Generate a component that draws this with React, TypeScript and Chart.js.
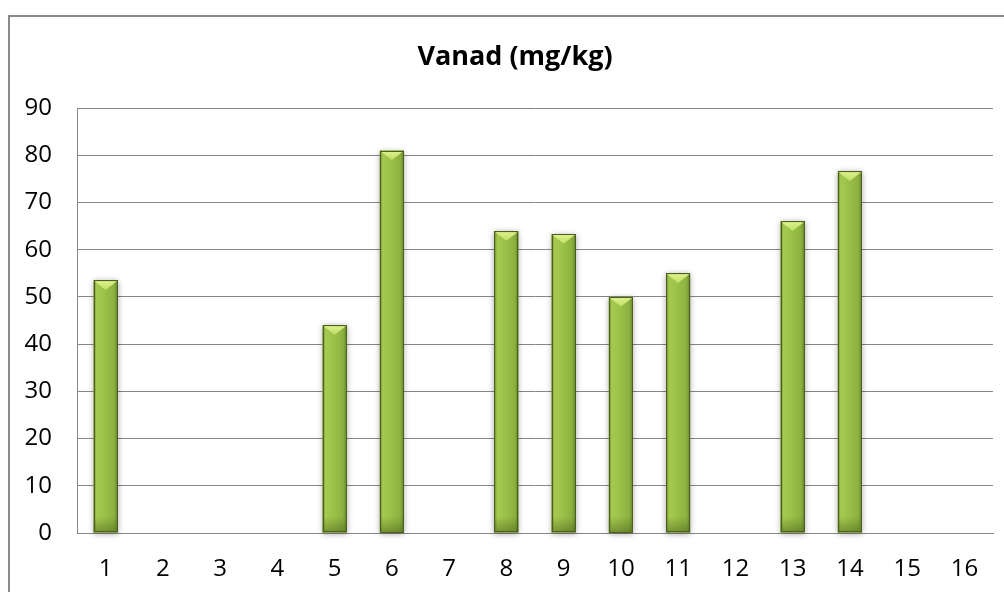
import React, { useEffect, useRef } from "react";
import { Chart, registerables } from "chart.js";

Chart.register(...registerables);

const categories = ["1", "2", "3", "4", "5", "6", "7", "8", "9", "10", "11", "12", "13", "14", "15", "16"];
const vanadValues: (number | null)[] = [53.5, null, null, null, 44, 81, null, 63.9, 63.3, 50, 55, null, 66, 76.6, null, null];
const chartTitle = "Vanad (mg/kg)";
const yMin = 0;
const yMax = 90;
const yStep = 10;

const gridColor = "#878787";

const bevelPlugin = {
  id: "bevelBars",
  afterDatasetsDraw(chart: any) {
    const ctx: CanvasRenderingContext2D = chart.ctx;
    const meta = chart.getDatasetMeta(0);
    meta.data.forEach((el: any, i: number) => {
      const v = vanadValues[i];
      if (v == null) return;
      const { x, y, base, width } = el.getProps(["x", "y", "base", "width"], true);
      const l = x - width / 2;
      const r = x + width / 2;
      const t = y;
      const b = base;
      const w = width;
      const h = b - t;
      ctx.save();
      ctx.shadowColor = "rgba(0,0,0,0.35)";
      ctx.shadowBlur = 6;
      ctx.shadowOffsetX = 0;
      ctx.shadowOffsetY = 1;
      ctx.fillStyle = "#8fb043";
      ctx.fillRect(l, t, w, h);
      ctx.restore();

      ctx.save();
      const g = ctx.createLinearGradient(l, 0, r, 0);
      g.addColorStop(0, "#6a872a");
      g.addColorStop(0.12, "#a6ca50");
      g.addColorStop(0.45, "#9cc148");
      g.addColorStop(0.85, "#8cb140");
      g.addColorStop(1, "#68852a");
      ctx.fillStyle = g;
      ctx.fillRect(l, t, w, h);

      const bev = Math.min(8, h / 2);
      const gb = ctx.createLinearGradient(0, b - bev * 2, 0, b);
      gb.addColorStop(0, "rgba(70,90,25,0)");
      gb.addColorStop(1, "rgba(70,90,25,0.5)");
      ctx.fillStyle = gb;
      ctx.fillRect(l, b - bev * 2, w, bev * 2);

      const th = w * 0.4;
      const gt = ctx.createLinearGradient(0, t, 0, t + th);
      gt.addColorStop(0, "#e2f292");
      gt.addColorStop(1, "#bddf62");
      ctx.beginPath();
      ctx.moveTo(l + 1, t + 1);
      ctx.lineTo(r - 1, t + 1);
      ctx.lineTo(x, t + th);
      ctx.closePath();
      ctx.fillStyle = gt;
      ctx.fill();

      ctx.strokeStyle = "#4b5f1f";
      ctx.lineWidth = 1;
      ctx.strokeRect(Math.round(l) + 0.5, Math.round(t) + 0.5, Math.round(w) - 1, Math.round(h) - 1);
      ctx.restore();
    });
  },
};

const CANVAS_W = 1030;

// centre the title over the whole framed chart area (Excel-style)
const titleCenterPlugin = {
  id: "titleCenter",
  afterLayout(chart: any) {
    const tb = chart.titleBlock;
    if (tb) {
      tb.left = 0;
      tb.right = CANVAS_W;
      tb.width = CANVAS_W;
    }
  },
};

export default function App() {
  const canvasRef = useRef<HTMLCanvasElement | null>(null);

  useEffect(() => {
    if (!canvasRef.current) return;
    const chart = new Chart(canvasRef.current, {
      type: "bar",
      data: {
        labels: categories,
        datasets: [
          {
            label: chartTitle,
            data: vanadValues,
            backgroundColor: "rgba(0,0,0,0)",
            borderWidth: 0,
            categoryPercentage: 1,
            barPercentage: 0.42,
          },
        ],
      },
      plugins: [bevelPlugin, titleCenterPlugin],
      options: {
        animation: false,
        responsive: false,
        maintainAspectRatio: false,
        layout: { padding: { left: 0, right: CANVAS_W - 993, top: 0, bottom: 0 } },
        plugins: {
          legend: { display: false },
          tooltip: { enabled: false },
          title: {
            display: true,
            text: chartTitle,
            color: "#000000",
            font: { family: "'Open Sans'", size: 27, weight: "bold", lineHeight: 1.2 },
            padding: { top: 41, bottom: 34.6 },
          },
        },
        scales: {
          x: {
            offset: true,
            grid: { display: false, drawTicks: false },
            border: { display: true, color: gridColor, width: 1 },
            ticks: {
              color: "#000000",
              font: { family: "'Open Sans'", size: 24 },
              padding: 22,
              maxRotation: 0,
              autoSkip: false,
            },
            afterFit: (s: any) => {
              s.height = 59;
            },
          },
          y: {
            min: yMin,
            max: yMax,
            ticks: {
              stepSize: yStep,
              color: "#000000",
              font: { family: "'Open Sans'", size: 24 },
              padding: 25,
            },
            grid: { color: gridColor, lineWidth: 1, drawTicks: false },
            border: { display: true, color: gridColor, width: 1 },
            afterFit: (s: any) => {
              s.width = 77;
            },
          },
        },
      },
    });
    return () => chart.destroy();
  }, []);

  return (
    <div style={{ position: "fixed", left: 0, top: 0, width: 1004, height: 592, overflow: "hidden", background: "#ffffff" }}>
      <div
        style={{
          position: "absolute",
          left: 8,
          top: 15,
          width: 1100,
          height: 700,
          border: "2px solid #8a8a8a",
          boxSizing: "border-box",
        }}
      />
      <canvas
        ref={canvasRef}
        width={CANVAS_W}
        height={592}
        style={{ position: "absolute", left: 0, top: 0, width: CANVAS_W, height: 592 }}
      />
    </div>
  );
}
